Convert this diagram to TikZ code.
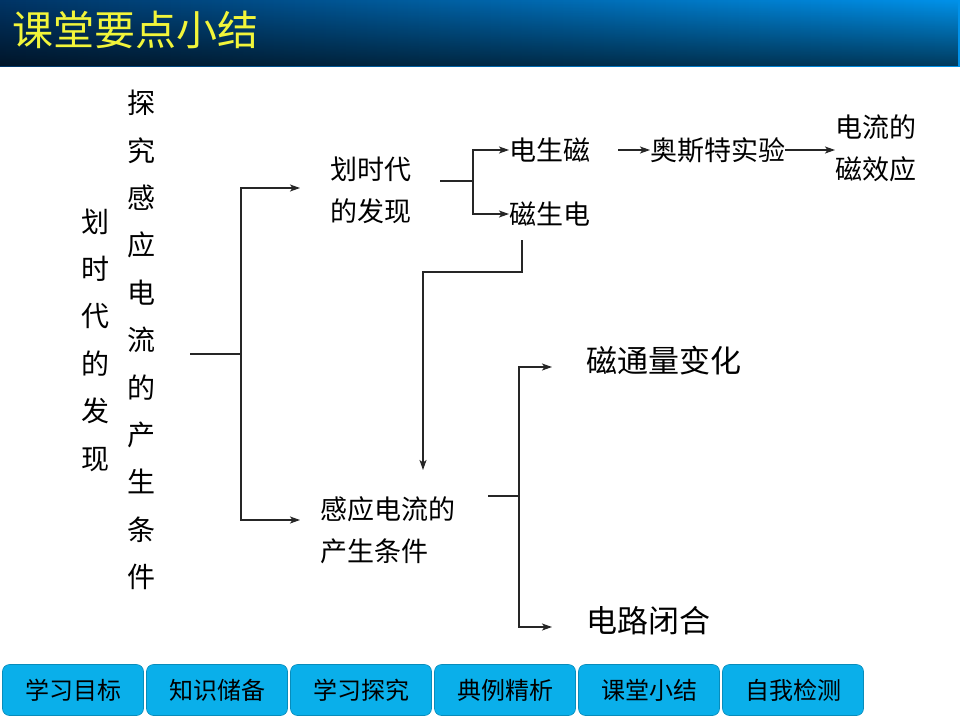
\documentclass[tikz,border=0pt]{standalone}
\usepackage{fontspec}
\setmainfont{Noto Sans CJK SC}
\usetikzlibrary{arrows.meta,fadings}
\definecolor{btn}{HTML}{0AAFEA}
\definecolor{hdL}{HTML}{003566}
\definecolor{hdR}{HTML}{0092EA}
\definecolor{ttl}{HTML}{F2F53A}
\tikzset{
  x=1pt,y=-1pt,
  conn/.style={line width=1.3pt,black!85},
  arr/.style={conn,-{Stealth[length=10pt,width=7pt,inset=2.5pt]}},
  txt/.style={inner sep=0pt,font=\fontsize{27}{42}\selectfont,align=left},
  big/.style={inner sep=0pt,font=\fontsize{31}{40}\selectfont},
  vert/.style={inner sep=0pt,font=\fontsize{28}{47.4}\selectfont,align=center},
  navbtn/.style={fill=btn,draw=btn!80!black,line width=0.6pt,rounded corners=7pt,minimum width=141pt,minimum height=51pt,inner sep=0pt,font=\fontsize{24}{24}\selectfont,text=black}
}
\begin{document}
\begin{tikzpicture}
\useasboundingbox (0,0) rectangle (960,720);
\fill[white] (0,0) rectangle (960,720);
% header
\shade[left color=hdL,right color=hdR] (0,0) rectangle (960,66);
\fill[black,path fading=north,fill opacity=0.6] (0,0) rectangle (960,66);
\node[anchor=west,inner sep=0pt,text=ttl,font=\fontsize{41}{41}\selectfont] (title) at (12,30) {课堂要点小结};
% left vertical texts
\node[vert] (v1) at (95,340) {划\\时\\代\\的\\发\\现};
\node[vert] (v2) at (141,340) {探\\究\\感\\应\\电\\流\\的\\产\\生\\条\\件};
\coordinate (b0) at (190,354);
\coordinate (b1) at (241,354);
\node[txt,anchor=west] (n1) at (330,190) {划时代\\的发现};
\node[txt,anchor=west] (n2) at (320,530) {感应电流的\\产生条件};
\draw[conn] (b0) -- (b1);
\draw[arr] (b1) |- (300,188);
\draw[arr] (b1) |- (300,520);
% top branch
\node[txt,anchor=west] (e1) at (509,150) {电生磁};
\node[txt,anchor=west] (e2) at (509,214) {磁生电};
\node[txt,anchor=west] (e3) at (650,150) {奥斯特实验};
\node[txt,anchor=west] (e4) at (835,148) {电流的\\磁效应};
\coordinate (c0) at (440,181);
\coordinate (c1) at (473,181);
\draw[conn] (c0) -- (c1);
\draw[arr] (c1) |- (e1.west);
\draw[arr] (c1) |- (e2.west);
\draw[arr] (618,150) -- (e3.west);
\draw[arr] (e3.east) -- (e4.west |- e3.east);
% feedback
\coordinate (d0) at (522,240);
\draw[arr] (d0) -- (522,272) -| (423,470);
% bottom branch
\node[big,anchor=west] (f1) at (586,361) {磁通量变化};
\node[big,anchor=west] (f2) at (586,621) {电路闭合};
\coordinate (g0) at (488,496);
\coordinate (g1) at (519,496);
\draw[conn] (g0) -- (g1);
\draw[arr] (g1) |- (552,367);
\draw[arr] (g1) |- (552,627);
% nav buttons
\node[navbtn] (nb1) at (73,690) {学习目标};
\node[navbtn] (nb2) at (217,690) {知识储备};
\node[navbtn] (nb3) at (361,690) {学习探究};
\node[navbtn] (nb4) at (505,690) {典例精析};
\node[navbtn] (nb5) at (649,690) {课堂小结};
\node[navbtn] (nb6) at (793,690) {自我检测};
\end{tikzpicture}
\end{document}
